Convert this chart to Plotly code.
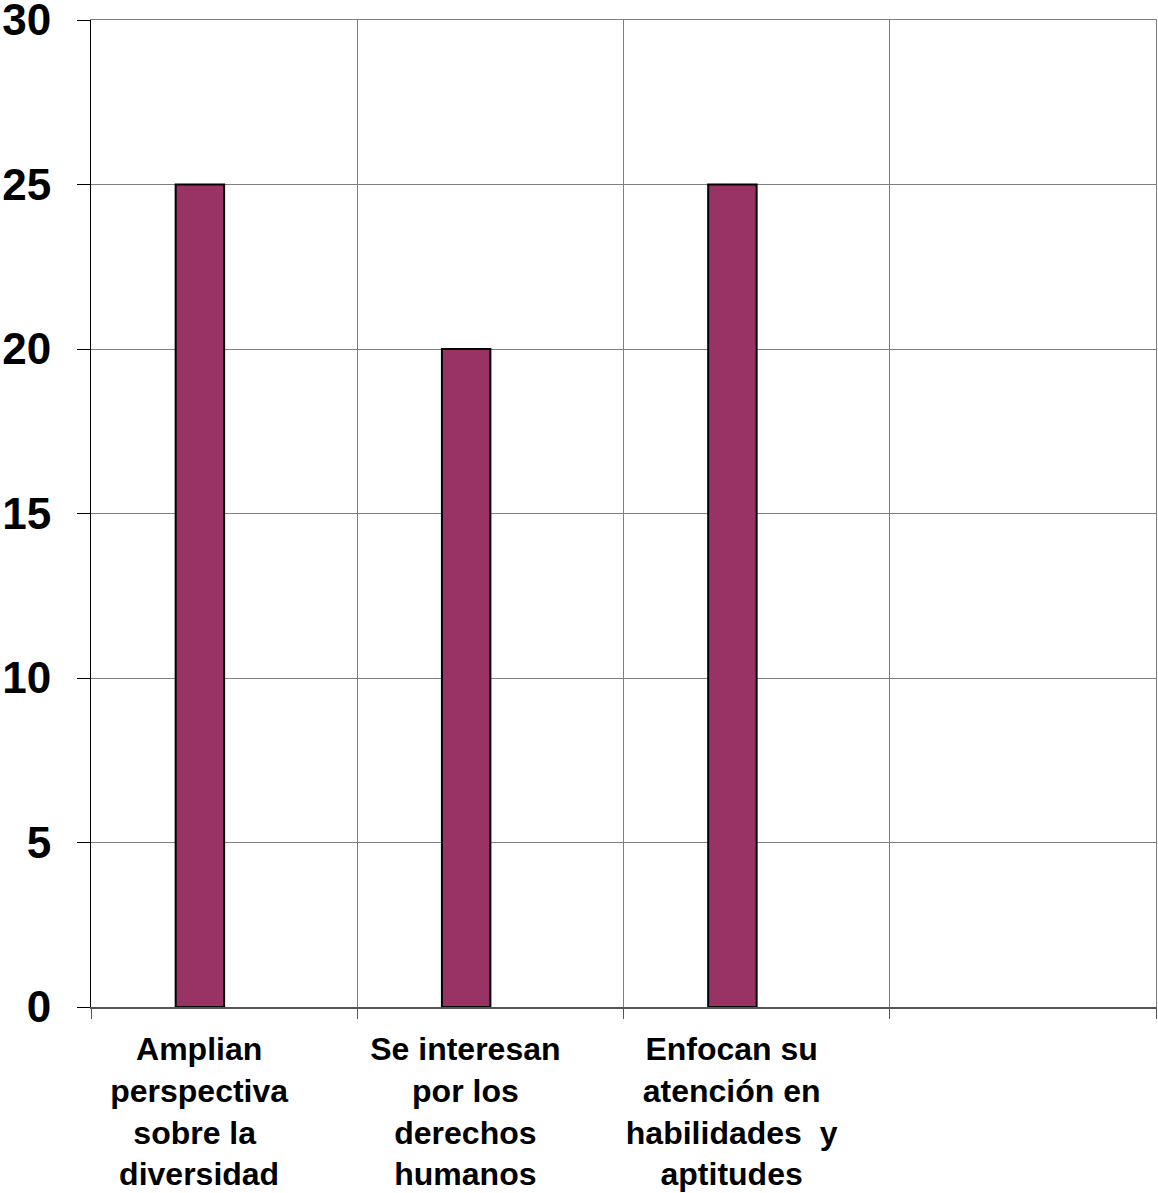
import plotly.graph_objects as go

categories = [
    "Amplian<br>perspectiva<br>sobre la <br>diversidad",
    "Se interesan<br>por los<br>derechos<br>humanos",
    "Enfocan su<br>atención en<br>habilidades  y<br>aptitudes",
    " ",
]
values = [25, 20, 25, None]
y_ticks = [0, 5, 10, 15, 20, 25, 30]

FONT = "Liberation Sans, Arial, sans-serif"
GRID = "#808080"

fig = go.Figure()
fig.add_trace(go.Bar(
    x=categories,
    y=values,
    width=0.182,
    offset=-0.182,
    marker=dict(color="#993366", line=dict(color="black", width=2)),
    hoverinfo="skip",
))
# empty trace so that the frame axes (top / right) are rendered
fig.add_trace(go.Scatter(
    x=[None], y=[None], xaxis="x2", yaxis="y2",
    mode="markers", showlegend=False, hoverinfo="skip",
))

fig.update_layout(
    width=1158,
    height=1193,
    margin=dict(l=91, r=2, t=20, b=186),
    plot_bgcolor="white",
    paper_bgcolor="white",
    showlegend=False,
    font=dict(family=FONT, color="black"),
    xaxis=dict(
        type="category",
        categoryorder="array",
        categoryarray=categories,
        tickson="boundaries",
        ticks="outside",
        ticklen=10,
        tickcolor="#555555",
        tickwidth=1,
        showgrid=True,
        gridcolor=GRID,
        gridwidth=1,
        showline=True,
        linecolor="#555555",
        linewidth=2,
        tickfont=dict(size=32, family=FONT, color="black", weight="bold"),
        ticklabelstandoff=13,
        ticklabelshift=-25,
        tickangle=0,
        automargin=False,
        ticklabeloverflow="allow",
    ),
    yaxis=dict(
        range=[0, 30],
        tickvals=y_ticks,
        ticks="outside",
        ticklen=13,
        tickcolor="black",
        tickwidth=1,
        showgrid=True,
        gridcolor=GRID,
        gridwidth=1,
        showline=True,
        linecolor="black",
        linewidth=1,
        zeroline=False,
        tickfont=dict(size=44, family=FONT, color="black", weight="bold"),
        ticklabelstandoff=17,
        automargin=False,
        ticklabeloverflow="allow",
    ),
    xaxis2=dict(overlaying="x", side="top", anchor="y", range=[0, 1],
                showline=True, linecolor=GRID, linewidth=1,
                showgrid=False, showticklabels=False, ticks="",
                zeroline=False, automargin=False),
    yaxis2=dict(overlaying="y", side="right", anchor="x", range=[0, 1],
                showline=True, linecolor=GRID, linewidth=1,
                showgrid=False, showticklabels=False, ticks="",
                zeroline=False, automargin=False),
)

fig.write_html(
    "out.html",
    config={"displayModeBar": False},
    post_script="document.body.style.margin='0';document.body.style.overflow='hidden';",
)
